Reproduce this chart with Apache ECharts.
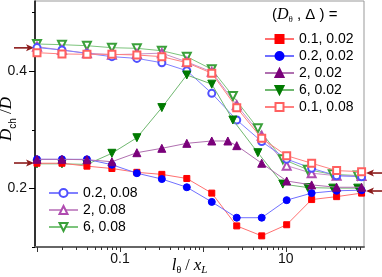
<!DOCTYPE html>
<html><head><meta charset="utf-8">
<script src="https://cdn.jsdelivr.net/npm/echarts@6/dist/echarts.min.js"></script>
<style>html,body{margin:0;padding:0;background:#fff}#c{width:382px;height:277px}</style>
</head><body><div id="c"></div>
<script>
// ---- data ----
const xStd = [0.01, 0.02, 0.04, 0.08, 0.16, 0.32, 0.64, 1.28, 2.56, 5.12, 10.24, 20.48, 40.96, 81.92];
const xPurpleFilled = [0.01, 0.02, 0.04, 0.08, 0.16, 0.32, 0.64, 1.28, 2.0, 2.56, 5.12, 10.24, 20.48, 40.96, 81.92];
const xGreen = [0.01, 0.02, 0.04, 0.08, 0.16, 0.32, 0.64, 1.28, 2.3, 4.6, 9.2, 18.4, 36.8, 73.6];

const yRed002    = [0.243, 0.243, 0.238, 0.234, 0.2275, 0.224, 0.217, 0.192, 0.136, 0.119, 0.138, 0.181, 0.186, 0.192];
const yBlue002   = [0.2497, 0.2497, 0.2497, 0.2405, 0.226, 0.216, 0.202, 0.177, 0.150, 0.150, 0.180, 0.192, 0.196, 0.197];
const yPurple002 = [0.2497, 0.2497, 0.249, 0.2456, 0.261, 0.2685, 0.277, 0.281, 0.281, 0.273, 0.243, 0.2127, 0.206, 0.202, 0.202];
const yGreen002  = [0.242, 0.242, 0.241, 0.26, 0.2866, 0.338, 0.3937, 0.378, 0.3168, 0.261, 0.2074, 0.2015, 0.2005, 0.2005];
const yRed008    = [0.4318, 0.4296, 0.429, 0.429, 0.4278, 0.425, 0.4147, 0.3966, 0.3378, 0.2855, 0.2559, 0.243, 0.2304, 0.2286];
const yBlue008   = [0.4405, 0.4363, 0.4305, 0.425, 0.422, 0.4146, 0.401, 0.3624, 0.3168, 0.280, 0.250, 0.2344, 0.2217, 0.220];
const yPurple008 = [0.442, 0.4363, 0.431, 0.4283, 0.4295, 0.431, 0.416, 0.399, 0.342, 0.290, 0.2389, 0.226, 0.2217, 0.2212];
const yGreen008  = [0.4466, 0.4454, 0.4437, 0.4403, 0.4392, 0.4351, 0.425, 0.4034, 0.3578, 0.3026, 0.250, 0.232, 0.224, 0.222];

const namesTop = ['0.1, 0.02', '0.2, 0.02', '2, 0.02', '6, 0.02', '0.1, 0.08'];
const namesBottom = ['0.2, 0.08', '2, 0.08', '6, 0.08'];

const xMajorTicks = [0.01, 0.1, 1, 10];
const xLabelTicks = [0.1, 10];
const xMinorTicks = [0.02,0.03,0.04,0.05,0.06,0.07,0.08,0.09, 0.2,0.3,0.4,0.5,0.6,0.7,0.8,0.9, 2,3,4,5,6,7,8,9, 20,30,40,50,60,70,80];
const yMajorTicks = [0.2, 0.4];
const yMinorTicks = [0.1, 0.3, 0.5];
const leftArrowValues = [0.44, 0.2434];
const rightArrowValues = [0.2263, 0.1956];

// ---- chart ----
const zip = (xs, ys) => xs.map((x, i) => [x, ys[i]]);
function mk(name, xs, ys, symbol, size, mColor, lColor, rotate, z) {
  return {
    name, type: 'line', data: zip(xs, ys), symbol, symbolSize: size, symbolRotate: rotate || 0,
    itemStyle: { color: mColor, borderColor: mColor, borderWidth: 1 },
    lineStyle: { color: lColor, width: 1 },
    emphasis: { disabled: true }, animation: false, z: z || 2
  };
}
const series = [
  mk('6, 0.08', xGreen, yGreen008, 'emptyTriangle', 8, '#3aa03a', '#7cc47c', 180, 2),
  mk('2, 0.08', xStd, yPurple008, 'emptyTriangle', 8, '#b04cb0', '#c890c8', 0, 2),
  mk('0.2, 0.08', xStd, yBlue008, 'emptyCircle', 7, '#5050ff', '#8080ff', 0, 2),
  mk('0.1, 0.08', xStd, yRed008, 'emptyRect', 7, '#ff6060', '#ff8080', 0, 3),
  mk('6, 0.02', xGreen, yGreen002, 'triangle', 8, '#007a00', '#70b870', 180, 3),
  mk('0.1, 0.02', xStd, yRed002, 'rect', 6, '#ff0000', '#ff7070', 0, 4),
  mk('0.2, 0.02', xStd, yBlue002, 'circle', 7, '#0000ff', '#7070ff', 0, 4),
  mk('2, 0.02', xPurpleFilled, yPurple002, 'triangle', 8, '#7a007a', '#b070b0', 0, 5)
];

const FONT = 'Liberation Sans';
const SERIF = 'Liberation Serif';
const chart = echarts.init(document.getElementById('c'), null, { renderer: 'canvas' });
const legendCommon = {
  orient: 'vertical', itemWidth: 29, itemHeight: 10, itemGap: 3, padding: 0, selectedMode: false,
  textStyle: { fontSize: 14, lineHeight: 14, fontFamily: FONT, color: '#000' }
};
const xMin = 0.00946, xMax = 87.6, yMin = 0.1, yMax = 0.52;
chart.setOption({
  animation: false,
  backgroundColor: '#fff',
  grid: { left: 35, right: 18, top: 1, bottom: 30, show: true, borderColor: '#999', borderWidth: 1, containLabel: false, outerBoundsMode: 'none' },
  xAxis: [{
    type: 'log', logBase: 10, min: xMin, max: xMax, position: 'bottom',
    axisLine: { show: true, lineStyle: { color: '#666', width: 2 } },
    axisTick: { show: true, customValues: xMajorTicks, length: 5, lineStyle: { color: '#333', width: 1 } },
    axisLabel: { show: true, customValues: xLabelTicks, formatter: v => String(+(+v).toPrecision(3)), fontSize: 14, fontFamily: FONT, color: '#111', margin: 5 },
    splitLine: { show: false }, minorTick: { show: false },
    name: '{i|l}{s|θ}{n| / }{i|x}{si|L}', nameLocation: 'middle', nameGap: 10, nameMoveOverlap: false,
    nameTextStyle: { padding: [0, 20, 0, 0], lineHeight: 18, rich: {
      i: { fontFamily: SERIF, fontStyle: 'italic', fontSize: 17, color: '#000', lineHeight: 18 },
      s: { fontFamily: SERIF, fontSize: 10, color: '#000', lineHeight: 18, padding: [8, 0, 0, 0] },
      si: { fontFamily: SERIF, fontStyle: 'italic', fontSize: 11, color: '#000', lineHeight: 18, padding: [8, 0, 0, 0] },
      n: { fontFamily: SERIF, fontSize: 16, color: '#000', lineHeight: 18 } } }
  }, {
    type: 'log', logBase: 10, min: xMin, max: xMax, position: 'bottom',
    axisLine: { show: false },
    axisTick: { show: true, customValues: xMinorTicks, length: 3, lineStyle: { color: '#333', width: 1 } },
    axisLabel: { show: false }, splitLine: { show: false }
  }],
  yAxis: [{
    type: 'value', min: yMin, max: yMax, position: 'left',
    axisLine: { show: true, lineStyle: { color: '#000', width: 1.5 } },
    axisTick: { show: true, customValues: yMajorTicks, length: 6, lineStyle: { color: '#000' } },
    axisLabel: { show: true, customValues: yMajorTicks, formatter: v => (+v).toFixed(1), fontSize: 14, fontFamily: FONT, color: '#111', margin: 8 },
    splitLine: { show: false },
    name: '{d|D}{s|ch}{n| /}{d|D}', nameLocation: 'middle', nameRotate: 90, nameGap: 17, nameMoveOverlap: false,
    nameTextStyle: { padding: [0, 0, 0, 10], rich: {
      d: { fontFamily: SERIF, fontStyle: 'italic', fontSize: 17, color: '#000' },
      s: { fontFamily: FONT, fontSize: 10, color: '#000', padding: [12, 0, 0, 0] },
      n: { fontFamily: SERIF, fontSize: 17, color: '#000' } } }
  }, {
    type: 'value', min: yMin, max: yMax, position: 'left',
    axisLine: { show: false },
    axisTick: { show: true, customValues: yMinorTicks, length: 3, lineStyle: { color: '#000' } },
    axisLabel: { show: false }, splitLine: { show: false }
  }],
  legend: [
    Object.assign({}, legendCommon, { data: namesTop, left: 264, top: 32 }),
    Object.assign({}, legendCommon, { data: namesBottom, left: 48, top: 186 })
  ],
  series
});

// annotations: legend title and arrows (positioned via the axis scale)
const arrowColor = '#8b1a1a';
function arrow(x1, x2, y) {
  const dir = x2 > x1 ? 1 : -1;
  return { type: 'group', silent: true, children: [
    { type: 'line', shape: { x1, y1: y, x2: x2 - dir * 4, y2: y }, style: { stroke: arrowColor, lineWidth: 1.6 } },
    { type: 'polygon', shape: { points: [[x2, y], [x2 - dir * 8, y - 3.5], [x2 - dir * 6, y], [x2 - dir * 8, y + 3.5]] }, style: { fill: arrowColor } }
  ] };
}
const g = [];
leftArrowValues.forEach(v => { const y = chart.convertToPixel({ yAxisIndex: 0 }, v); g.push(arrow(14, 34, y)); });
rightArrowValues.forEach(v => { const y = chart.convertToPixel({ yAxisIndex: 0 }, v); g.push(arrow(382, 366, y)); });
g.push({ type: 'text', left: 272, top: 7, silent: true, style: {
  text: '{p|(}{d|D}{s|θ}{p| , Δ ) =}',
  rich: {
    p: { fontFamily: FONT, fontSize: 15, color: '#000' },
    d: { fontFamily: SERIF, fontStyle: 'italic', fontSize: 16, color: '#000' },
    s: { fontFamily: SERIF, fontSize: 9, color: '#000', padding: [10, 0, 0, 0] }
  } } });
chart.setOption({ graphic: g });
</script></body></html>
